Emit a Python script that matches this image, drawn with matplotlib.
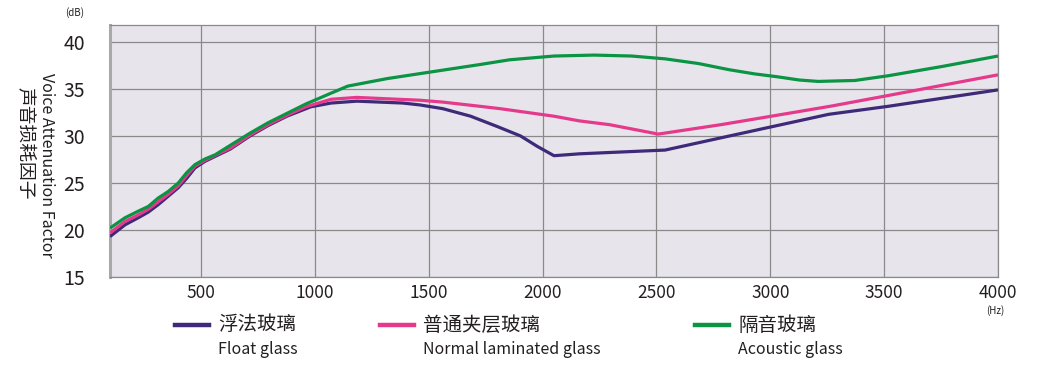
import matplotlib
matplotlib.use('Agg')
import matplotlib.pyplot as plt
from matplotlib.lines import Line2D

plt.rcParams['font.family'] = ['Noto Sans CJK SC', 'DejaVu Sans']

# frequency (Hz) / attenuation (dB)
freq_acoustic = [100, 166, 224, 268, 312, 356, 400, 437, 473, 517, 562, 628, 715, 794,
                 877, 960, 1066, 1144, 1317, 1562, 1726, 1855, 2050, 2226, 2391, 2538,
                 2685, 2818, 2931, 3029, 3127, 3210, 3371, 3517, 3757, 4000]
db_acoustic = [20.2, 21.3, 22.0, 22.5, 23.4, 24.1, 25.0, 26.1, 26.95, 27.55, 28.0, 29.0,
               30.3, 31.4, 32.4, 33.4, 34.5, 35.3, 36.1, 37.0, 37.6, 38.1, 38.5, 38.6,
               38.5, 38.2, 37.7, 37.05, 36.6, 36.3, 35.95, 35.8, 35.9, 36.4, 37.4, 38.5]

freq_laminated = [100, 166, 224, 268, 312, 356, 400, 437, 473, 517, 568, 628, 715, 794,
                  877, 960, 1071, 1184, 1366, 1461, 1562, 1726, 1814, 2050, 2162, 2294,
                  2508, 2783, 3029, 3273, 3517, 3758, 4000]
db_laminated = [19.7, 20.9, 21.6, 22.2, 23.0, 23.8, 24.7, 25.8, 26.8, 27.4, 28.0, 28.7,
                30.1, 31.2, 32.2, 33.1, 33.9, 34.1, 33.9, 33.8, 33.6, 33.15, 32.9, 32.1,
                31.6, 31.2, 30.2, 31.2, 32.2, 33.2, 34.3, 35.4, 36.5]

freq_float = [100, 166, 224, 268, 312, 356, 400, 437, 473, 517, 568, 628, 715, 794, 877,
              982, 1071, 1184, 1386, 1461, 1562, 1684, 1801, 1903, 1976, 2050, 2162, 2538,
              2783, 3029, 3256, 3517, 4000]
db_float = [19.3, 20.55, 21.3, 21.9, 22.7, 23.6, 24.5, 25.5, 26.6, 27.3, 27.9, 28.6, 30.0,
            31.1, 32.1, 33.1, 33.5, 33.7, 33.5, 33.3, 32.9, 32.1, 31.0, 30.0, 28.9, 27.9,
            28.1, 28.5, 29.8, 31.1, 32.3, 33.15, 34.9]

x_ticks = [500, 1000, 1500, 2000, 2500, 3000, 3500, 4000]
y_ticks = [15, 20, 25, 30, 35, 40]

names_cn = ['浮法玻璃', '普通夹层玻璃', '隔音玻璃']
names_en = ['Float glass', 'Normal laminated glass', 'Acoustic glass']
colors = ['#3e2a78', '#e5398b', '#0b9444']

W, H = 1038, 369
fig = plt.figure(figsize=(W / 100, H / 100), dpi=100)
ax = fig.add_axes([110 / W, 1 - 277 / H, 888 / W, 252 / H])
ax.set_facecolor('#e7e5eb')

series = [(freq_float, db_float), (freq_laminated, db_laminated),
          (freq_acoustic, db_acoustic)]
for (f, d), c in zip(series, colors):
    ax.plot(f, d, color=c, lw=2.3, solid_capstyle='butt', zorder=3)

ax.set_xlim(100, 4000)
ax.set_ylim(15, 41.8)
ax.set_xticks(x_ticks)
ax.set_yticks(y_ticks)
ax.grid(True, color='#8a8a8a', lw=0.9)
ax.set_axisbelow(True)
ax.tick_params(axis='both', length=0, colors='#231f20')
ax.tick_params(axis='x', labelsize=12.5, pad=5)
ax.tick_params(axis='y', labelsize=14, pad=18)
for s in ax.spines.values():
    s.set_color('#8a8a8a')
    s.set_linewidth(0.9)
ax.spines['left'].set_color('#a9a9a9')
ax.spines['left'].set_linewidth(2.2)

fig.text(75 / W, 1 - 13 / H, '(dB)', fontsize=7, ha='center', va='center', color='#231f20')
fig.text(995 / W, 1 - 311 / H, '(Hz)', fontsize=7, ha='center', va='center', color='#231f20')

fig.text(46 / W, 1 - 165 / H, 'Voice Attenuation Factor', rotation=270, fontsize=11.5,
         ha='center', va='center', color='#231f20')
fig.text(25 / W, 1 - 143 / H, '声音损耗因子', rotation=270, fontsize=13.5,
         ha='center', va='center', color='#231f20')

# legend drawn by hand: line + Chinese name, English name underneath
leg_x = [175, 380, 695]
for x0, c, cn, en in zip(leg_x, colors, names_cn, names_en):
    fig.add_artist(Line2D([x0 / W, (x0 + 34) / W], [1 - 325 / H, 1 - 325 / H],
                          color=c, lw=3.2, transform=fig.transFigure))
    fig.text((x0 + 43) / W, 1 - 325 / H, cn, fontsize=14, ha='left', va='center',
             color='#231f20')
    fig.text((x0 + 43) / W, 1 - 350 / H, en, fontsize=11.5, ha='left', va='center',
             color='#231f20')

fig.savefig('out.png', dpi=100, facecolor='white')
